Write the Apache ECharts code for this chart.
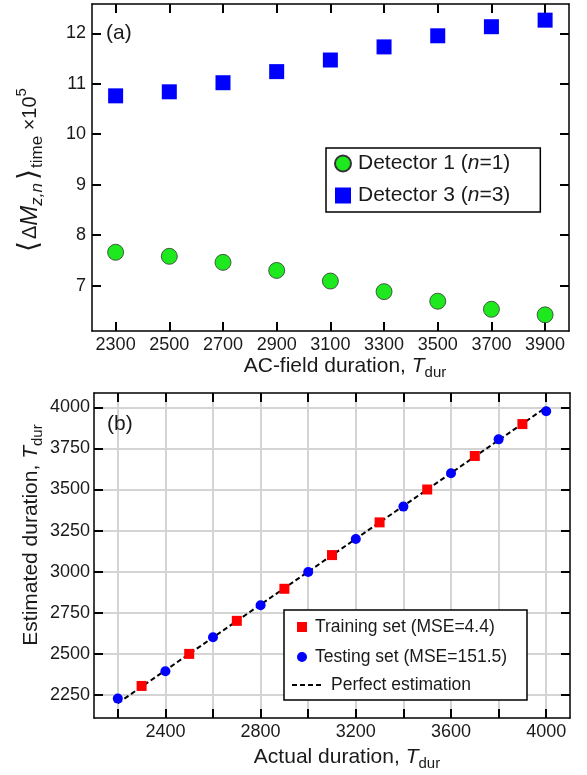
<!DOCTYPE html>
<html><head><meta charset="utf-8">
<script src="https://cdn.jsdelivr.net/npm/echarts@6/dist/echarts.min.js"></script>
<style>html,body{margin:0;padding:0;background:#fff}#c{width:587px;height:775px}</style>
</head><body><div id="c"></div>
<script>
// ---- Panel (a) data ----
const durationsA = [2300, 2500, 2700, 2900, 3100, 3300, 3500, 3700, 3900];
const detector1 = [7.66, 7.58, 7.46, 7.30, 7.09, 6.88, 6.69, 6.53, 6.42];
const detector3 = [10.76, 10.84, 11.02, 11.24, 11.47, 11.73, 11.95, 12.13, 12.26];
const xTicksA = [2300, 2500, 2700, 2900, 3100, 3300, 3500, 3700, 3900];
const yTicksA = [7, 8, 9, 10, 11, 12];

// ---- Panel (b) data ----
const trainActual = [2300, 2500, 2700, 2900, 3100, 3300, 3500, 3700, 3900];
const trainEstimated = [2305, 2500, 2701, 2896, 3101, 3300, 3500, 3704, 3898];
const testActual = [2200, 2400, 2600, 2800, 3000, 3200, 3400, 3600, 3800, 4000];
const testEstimated = [2228, 2394, 2601, 2796, 2998, 3199, 3396, 3599, 3805, 3976];
const perfectX = [2200, 4000];
const perfectY = [2200, 4000];
const xTicksB = [2200, 2400, 2600, 2800, 3000, 3200, 3400, 3600, 3800, 4000];
const xLabelsB = [2400, 2800, 3200, 3600, 4000];
const yTicksB = [2250, 2500, 2750, 3000, 3250, 3500, 3750, 4000];

const FONT = 'Liberation Sans, Arial, sans-serif';
const INK = '#1a1a1a';
const zip = (a, b) => a.map((v, i) => [v, b[i]]);

function axis(o) {
  const showLabel = o.labels !== null;
  return {
    type: 'value', gridIndex: o.grid, position: o.pos, min: o.min, max: o.max,
    axisLine: { show: true, onZero: false, lineStyle: { color: '#000', width: 1.5 } },
    axisTick: { show: true, inside: true, length: 9, customValues: o.ticks, lineStyle: { color: '#000', width: 2 } },
    axisLabel: showLabel ? { show: true, customValues: o.labels, formatter: v => String(v),
      fontSize: 18, color: INK, fontFamily: FONT, margin: o.margin || 6 } : { show: false },
    splitLine: o.split ? { show: true, lineStyle: { color: '#d4d4d4', width: 2 } } : { show: false }
  };
}

function titleStyle(prefix) {
  return {
    text: prefix + '{it|T}{sub|dur}', fontSize: 21, fontFamily: FONT, fill: INK,
    align: 'center', verticalAlign: 'middle', lineHeight: 28,
    rich: {
      it: { fontStyle: 'italic', fontSize: 21, fontFamily: FONT, lineHeight: 28 },
      sub: { fontSize: 15, fontFamily: FONT, lineHeight: 14, verticalAlign: 'bottom' }
    }
  };
}

function smallLegend(name, icon, top, left, w, padLeft, extra) {
  const item = { name: name };
  if (icon) item.icon = icon;
  if (extra) Object.assign(item, extra);
  return {
    left: left, top: top, padding: 0, itemWidth: w, itemHeight: 10, z: 6,
    textStyle: { fontSize: 17.5, color: INK, fontFamily: FONT, lineHeight: 20, padding: [0, 0, 0, padLeft] },
    data: [item]
  };
}

const chart = echarts.init(document.getElementById('c'), null, { renderer: 'canvas' });
const option = {
  animation: false,
  backgroundColor: '#fff',
  textStyle: { fontFamily: FONT },
  grid: [
    { left: 92, top: 4, width: 477, height: 327, show: false },
    { left: 94, top: 393, width: 476, height: 325, show: false }
  ],
  xAxis: [
    axis({ grid: 0, pos: 'bottom', min: 2212, max: 3989, ticks: xTicksA, labels: xTicksA, margin: 5 }),
    axis({ grid: 0, pos: 'top', min: 2212, max: 3989, ticks: xTicksA, labels: null }),
    axis({ grid: 1, pos: 'bottom', min: 2100, max: 4100, ticks: xTicksB, labels: xLabelsB, split: true, margin: 5 }),
    axis({ grid: 1, pos: 'top', min: 2100, max: 4100, ticks: xTicksB, labels: null })
  ],
  yAxis: [
    axis({ grid: 0, pos: 'left', min: 6.1, max: 12.58, ticks: yTicksA, labels: yTicksA, margin: 6 }),
    axis({ grid: 0, pos: 'right', min: 6.1, max: 12.58, ticks: yTicksA, labels: null }),
    axis({ grid: 1, pos: 'left', min: 2110, max: 4087, ticks: yTicksB, labels: yTicksB, split: true, margin: 4 }),
    axis({ grid: 1, pos: 'right', min: 2110, max: 4087, ticks: yTicksB, labels: null })
  ],
  legend: [
    {
      left: 326, top: 148, orient: 'vertical', padding: [5, 30, 6, 8],
      itemWidth: 16, itemHeight: 16, itemGap: 11,
      borderColor: '#000', borderWidth: 1.5, backgroundColor: '#fff',
      textStyle: { fontSize: 21, color: INK, lineHeight: 21, fontFamily: FONT, padding: [0, 0, 0, 2],
        rich: { i: { fontStyle: 'italic', fontSize: 21, fontFamily: FONT } } },
      formatter: n => n.replace('(n=', '({i|n}='),
      data: [{ name: 'Detector 1 (n=1)', icon: 'circle' }, { name: 'Detector 3 (n=3)', icon: 'rect' }]
    },
    smallLegend('Training set (MSE=4.4)', 'rect', 617, 297, 10, 3),
    smallLegend('Testing set (MSE=151.5)', 'circle', 647, 297, 10, 3),
    smallLegend('Perfect estimation', null, 675, 291, 29, 5,
      { itemStyle: { color: 'rgba(0,0,0,0)', borderColor: 'rgba(0,0,0,0)', borderWidth: 0, opacity: 0 } })
  ],
  series: [
    {
      name: 'Detector 1 (n=1)', type: 'scatter', xAxisIndex: 0, yAxisIndex: 0,
      symbol: 'circle', symbolSize: 16,
      itemStyle: { color: '#1ee81e', borderColor: '#333', borderWidth: 0.8, opacity: 1 },
      data: zip(durationsA, detector1)
    },
    {
      name: 'Detector 3 (n=3)', type: 'scatter', xAxisIndex: 0, yAxisIndex: 0,
      symbol: 'rect', symbolSize: 15,
      itemStyle: { color: '#0000ff', opacity: 1 },
      data: zip(durationsA, detector3)
    },
    {
      name: 'Perfect estimation', type: 'line', xAxisIndex: 2, yAxisIndex: 2,
      symbol: 'none', z: 1,
      lineStyle: { color: '#000', width: 2, type: [5, 3] },
      itemStyle: { color: '#000' },
      data: zip(perfectX, perfectY)
    },
    {
      name: 'Training set (MSE=4.4)', type: 'scatter', xAxisIndex: 2, yAxisIndex: 2,
      symbol: 'rect', symbolSize: 10, z: 3,
      itemStyle: { color: '#ff0000', opacity: 1 },
      data: zip(trainActual, trainEstimated)
    },
    {
      name: 'Testing set (MSE=151.5)', type: 'scatter', xAxisIndex: 2, yAxisIndex: 2,
      symbol: 'circle', symbolSize: 10, z: 3,
      itemStyle: { color: '#0000ff', opacity: 1 },
      data: zip(testActual, testEstimated)
    }
  ],
  graphic: [
    { type: 'rect', z: 1, shape: { x: 284, y: 610, width: 243, height: 90 },
      style: { fill: '#fff', stroke: '#000', lineWidth: 1.5 } },
    { type: 'text', z: 60, x: 106, y: 33,
      style: { text: '(a)', fontSize: 21, fontFamily: FONT, fill: INK, verticalAlign: 'middle' } },
    { type: 'text', z: 60, x: 107, y: 424,
      style: { text: '(b)', fontSize: 21, fontFamily: FONT, fill: INK, verticalAlign: 'middle' } },
    { type: 'text', z: 60, x: 345, y: 366, style: titleStyle('AC-field duration, ') },
    { type: 'text', z: 60, x: 347, y: 757, style: titleStyle('Actual duration, ') },
    { type: 'text', z: 60, x: 31, y: 535, rotation: Math.PI / 2, style: titleStyle('Estimated duration, ') },
    { type: 'text', z: 60, x: 30, y: 170, rotation: Math.PI / 2,
      style: {
        text: '{br|⟨}{d|Δ}{m|M}{sub|z,n}{br|⟩}{t|time}{x| ×10}{p|5}', fontFamily: FONT, fill: INK,
        align: 'center', verticalAlign: 'middle',
        rich: {
          br: { fontSize: 28, fontFamily: 'DejaVu Sans', lineHeight: 32 },
          d: { fontSize: 20, fontFamily: FONT, lineHeight: 32, padding: [0, 0, 0, 2] },
          m: { fontSize: 24, fontStyle: 'italic', fontFamily: FONT, lineHeight: 32 },
          sub: { fontSize: 17, fontStyle: 'italic', fontFamily: FONT, lineHeight: 18, verticalAlign: 'bottom', padding: [0, 3, 0, 0] },
          t: { fontSize: 17, fontFamily: FONT, lineHeight: 16, verticalAlign: 'bottom', padding: [0, 0, 0, 1] },
          x: { fontSize: 20, fontFamily: FONT, lineHeight: 32 },
          p: { fontSize: 15, fontFamily: FONT, lineHeight: 16, verticalAlign: 'top' }
        }
      } }
  ]
};
chart.setOption(option);
</script>
</body></html>
